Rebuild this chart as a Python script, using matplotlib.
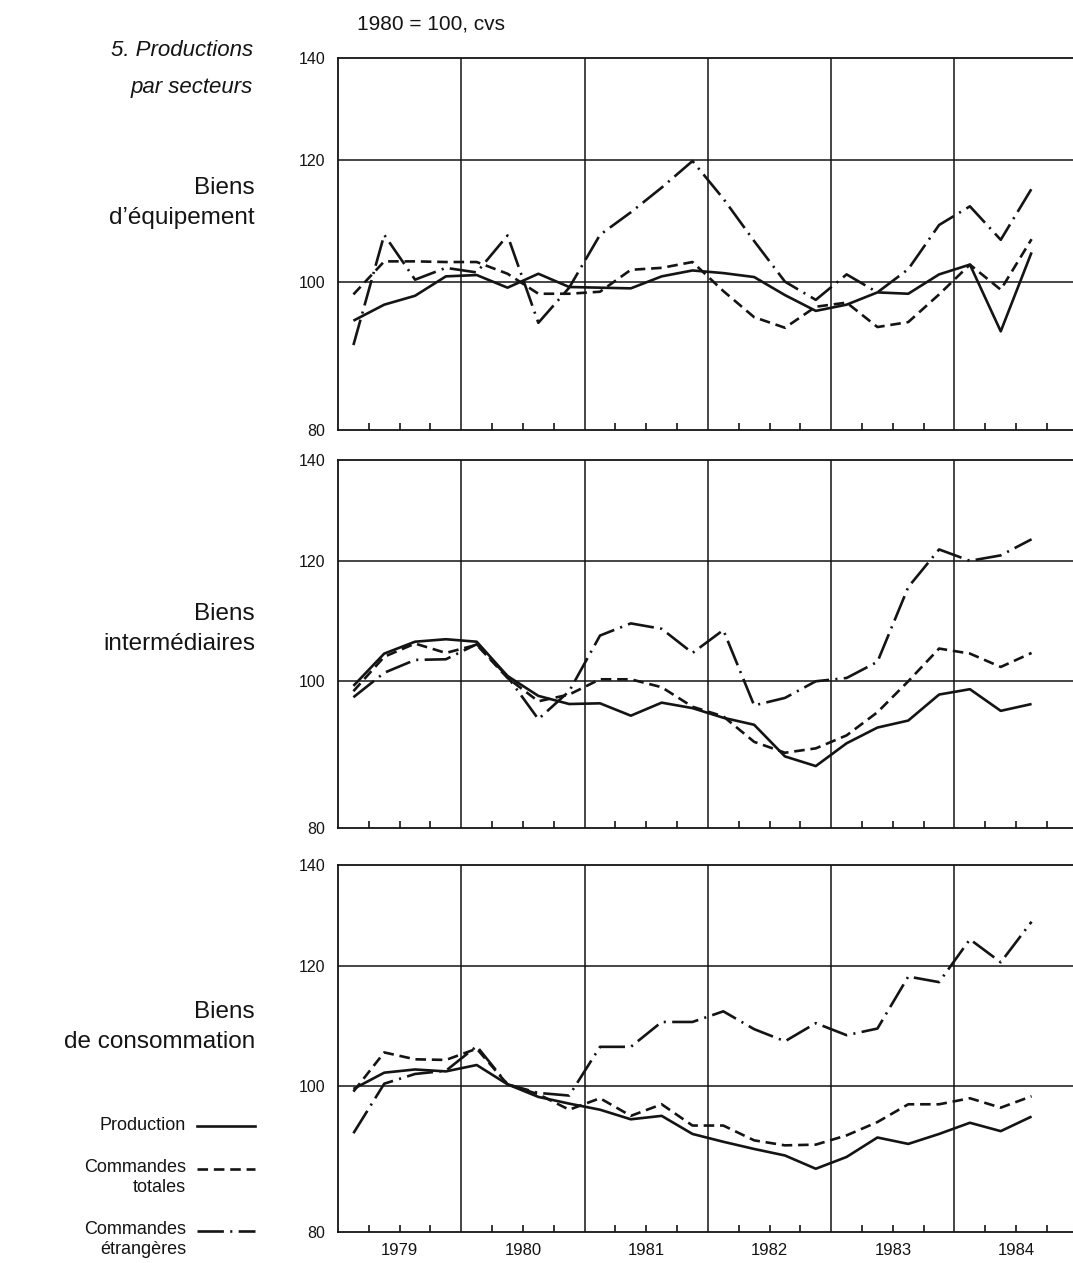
import numpy as np
import pandas as pd
import matplotlib
matplotlib.use("Agg")
import matplotlib.pyplot as plt
from matplotlib.lines import Line2D
from matplotlib.ticker import NullFormatter, NullLocator, FixedLocator

plt.rcParams['font.family'] = ['Liberation Sans', 'DejaVu Sans']

# ---- data (1980 = 100, cvs), quarterly 1979T1 .. 1984T3 ----
periodes = pd.period_range("1979Q1", "1984Q3", freq="Q")
annees = [1979, 1980, 1981, 1982, 1983, 1984]

secteurs = ["Biens\nd\u2019\u00e9quipement", "Biens\ninterm\u00e9diaires", "Biens\nde consommation"]

equip_production = [94.3, 96.6, 97.9, 100.8, 101.0, 99.1, 101.2, 99.2, 99.1, 99.0, 100.8, 101.7,
                    101.3, 100.7, 98.0, 95.7, 96.6, 98.4, 98.2, 101.1, 102.6, 92.8, 104.5]
equip_totales = [98.1, 103.1, 103.1, 103.0, 103.0, 101.2, 98.2, 98.2, 98.5, 101.8, 102.1, 103.0,
                 98.6, 94.8, 93.3, 96.3, 96.9, 93.4, 94.1, 98.1, 102.6, 98.8, 106.6]
equip_etrangeres = [90.9, 107.3, 100.3, 102.1, 101.4, 107.2, 94.0, 99.1, 107.3, 111.0, 115.2, 119.9,
                    113.3, 106.3, 100.0, 97.3, 101.1, 98.4, 101.9, 108.9, 112.0, 106.5, 115.0]

inter_production = [99.3, 104.3, 106.2, 106.6, 106.2, 100.8, 97.8, 96.6, 96.7, 94.9, 96.8, 96.0,
                    94.6, 93.6, 89.2, 87.9, 91.0, 93.2, 94.2, 98.0, 98.8, 95.6, 96.6]
inter_totales = [98.5, 103.8, 105.9, 104.4, 105.7, 100.5, 97.0, 98.0, 100.3, 100.3, 99.1, 96.2,
                 94.8, 91.2, 89.7, 90.3, 92.1, 95.4, 100.0, 105.1, 104.3, 102.2, 104.4]
inter_etrangeres = [97.6, 101.3, 103.3, 103.4, 105.8, 100.7, 94.4, 98.5, 107.2, 109.2, 108.3, 104.4,
                    108.1, 96.4, 97.5, 100.0, 100.5, 103.0, 115.4, 122.2, 120.1, 121.1, 124.1]

conso_production = [99.5, 102.0, 102.5, 102.2, 103.2, 100.2, 98.3, 97.3, 96.4, 95.0, 95.5, 92.9,
                    91.8, 90.8, 89.9, 88.1, 89.7, 92.4, 91.5, 92.9, 94.5, 93.3, 95.4]
conso_totales = [99.1, 105.2, 104.1, 104.0, 105.8, 100.2, 98.7, 96.4, 98.1, 95.5, 97.2, 94.1,
                 94.1, 92.0, 91.3, 91.4, 92.7, 94.6, 97.2, 97.2, 98.1, 96.7, 98.4]
conso_etrangeres = [93.0, 100.3, 101.8, 102.3, 106.2, 100.2, 98.9, 98.5, 106.1, 106.1, 110.2, 110.2,
                    112.0, 109.0, 107.0, 110.0, 108.0, 109.1, 118.1, 117.1, 125.0, 120.7, 128.4]

y_ticks = [80, 100, 120, 140]
y_grid = [100, 120]

series = [
    (equip_production, equip_totales, equip_etrangeres),
    (inter_production, inter_totales, inter_etrangeres),
    (conso_production, conso_totales, conso_etrangeres),
]

x = np.array([p.year + (p.quarter - 0.5) / 4 for p in periodes])

W, H = 1073, 1263
fig = plt.figure(figsize=(W / 100, H / 100), dpi=100)
fig.patch.set_facecolor('white')

INK = '#141414'
LW = 1.9
styles = [
    dict(linestyle='-'),
    dict(linestyle=(0, (4.0, 2.2))),
    dict(linestyle=(0, (10.0, 2.4, 0.8, 2.4))),
]

panel_px = [(58, 430), (460, 828), (865, 1232)]
left_px = 338
label_centers = [203, 629, 1027]

def fx(px):
    return px / W

def fy(py):
    return 1 - py / H

for i, ((top, bot), data) in enumerate(zip(panel_px, series)):
    ax = fig.add_axes([fx(left_px), fy(bot), 1 - fx(left_px), (bot - top) / H])
    ax.set_yscale('log')
    ax.set_ylim(80, 140)
    ax.set_xlim(annees[0], annees[0] + (W - left_px) / 123.3)
    for g in y_grid:
        ax.axhline(g, color=INK, lw=1.1, zorder=1)
    for a in annees[1:]:
        ax.axvline(a, color=INK, lw=1.1, zorder=1)
    for vals, st in zip(data, styles):
        ax.plot(x, vals, color=INK, lw=LW, solid_capstyle='butt',
                dash_capstyle='butt', zorder=3, **st)
    ax.yaxis.set_major_locator(FixedLocator(y_ticks))
    ax.yaxis.set_minor_locator(NullLocator())
    ax.yaxis.set_minor_formatter(NullFormatter())
    ax.set_yticklabels([str(v) for v in y_ticks])
    ax.tick_params(axis='y', length=0, pad=9, labelsize=11.5, colors=INK)
    mids = [a + 0.5 for a in annees]
    ax.set_xticks(mids)
    ax.set_xticks([a + q for a in annees for q in (0.25, 0.75)], minor=True)
    ax.tick_params(axis='x', which='both', direction='in', length=5, width=1.2,
                   colors=INK, labelsize=12, pad=8)
    if i == 2:
        ax.set_xticklabels([str(a) for a in annees])
    else:
        ax.set_xticklabels([])
    for s in ['left', 'top', 'bottom']:
        ax.spines[s].set_linewidth(1.3)
        ax.spines[s].set_color(INK)
    ax.spines['right'].set_visible(False)
    fig.text(fx(255), fy(label_centers[i]), secteurs[i], ha='right', va='center',
             fontsize=17.5, color=INK, linespacing=1.45)

fig.text(fx(253), fy(50), "5. Productions", ha='right', va='center',
         fontsize=16, style='italic', color=INK)
fig.text(fx(253), fy(88), "par secteurs", ha='right', va='center',
         fontsize=16, style='italic', color=INK)
fig.text(fx(357), fy(24), "1980 = 100, cvs", ha='left', va='center',
         fontsize=15, color=INK)

# legend
legend_items = [("Production", None, 1125), ("Commandes", "totales", 1168),
                ("Commandes", "\u00e9trang\u00e8res", 1230)]
for (l1, l2, yy), st in zip(legend_items, styles):
    fig.text(fx(186), fy(yy), l1, ha='right', va='center', fontsize=13, color=INK)
    if l2:
        fig.text(fx(186), fy(yy + 20), l2, ha='right', va='center', fontsize=13, color=INK)
    fig.add_artist(Line2D([fx(197), fx(255)], [fy(yy + 1), fy(yy + 1)], color=INK,
                          lw=LW, transform=fig.transFigure, **st))

fig.savefig("out.png", dpi=100, facecolor='white')
